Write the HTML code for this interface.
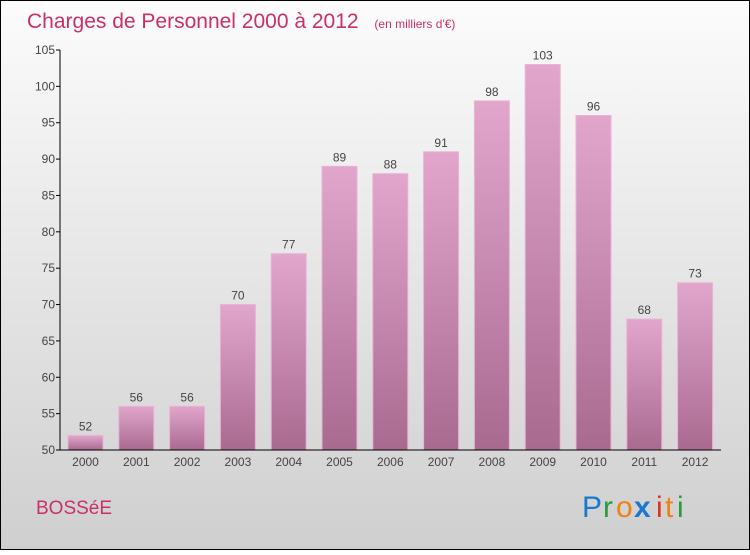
<!DOCTYPE html>
<html><head><meta charset="utf-8"><style>
body{margin:0}
#c{width:750px;height:550px;position:relative;font-family:"Liberation Sans",sans-serif}
</style></head><body>
<div id="c">
<svg width="750" height="550" xmlns="http://www.w3.org/2000/svg" id="svg">
<defs>
<linearGradient id="bg" x1="0" y1="0" x2="0" y2="1"><stop offset="0" stop-color="#fcfcfc"/><stop offset="1" stop-color="#cfcfcf"/></linearGradient>
<linearGradient id="bar" x1="0" y1="0" x2="0" y2="1"><stop offset="0" stop-color="#e2a6cc"/><stop offset="1" stop-color="#a96a90"/></linearGradient>
</defs>
<rect x="0.5" y="0.5" width="749" height="549" fill="url(#bg)" stroke="#000"/>
<text x="27" y="28" font-size="21" fill="#c8306a">Charges de Personnel 2000 à 2012 <tspan font-size="12" dx="10">(en milliers d'€)</tspan></text>
<text x="36" y="514" font-size="19" fill="#c8306a">BOSSéE</text>
<g font-size="30" font-family="'Liberation Sans',sans-serif">
<text x="582" y="517" fill="#1a78d0">P</text><text x="603" y="517" fill="#2a9a40">r</text><text x="616" y="517" fill="#f08010">o</text><text x="634" y="517" fill="#1a78d0" font-weight="bold">x</text><text x="656" y="517" fill="#e03020">i</text><text x="665" y="517" fill="#f08010">t</text><text x="677" y="517" fill="#2a9a40">i</text>
</g>
<g id="plot"></g>
</svg>
</div>
<script>
const categories=["2000","2001","2002","2003","2004","2005","2006","2007","2008","2009","2010","2011","2012"];
const values=[52,56,56,70,77,89,88,91,98,103,96,68,73];
const yTicks=[50,55,60,65,70,75,80,85,90,95,100,105];
const NS="http://www.w3.org/2000/svg";
const g=document.getElementById("plot");
const y=v=>450-(v-50)*400/55;
const x=i=>85.5+i*50.8;
function el(t,a){const e=document.createElementNS(NS,t);for(const k in a)e.setAttribute(k,a[k]);g.appendChild(e);return e;}
yTicks.forEach(t=>{
 const l=el("line",{x1:56,x2:60,y1:y(t),y2:y(t),stroke:"#000"});
 
 
 const tx=el("text",{x:55,y:y(t)+4,"font-size":12,fill:"#444","text-anchor":"end"});tx.textContent=t;
 
 
});
categories.forEach((c,i)=>{
 const v=values[i];
 const r=el("rect",{x:x(i)-17.5,y:y(v),width:35,height:450-y(v),fill:"url(#bar)",stroke:"#e8b4d4","stroke-width":1});
 
 
 const vt=el("text",{x:x(i),y:y(v)-5,"font-size":12,fill:"#444","text-anchor":"middle"});vt.textContent=v;
 
 
 const ct=el("text",{x:x(i),y:466,"font-size":12,fill:"#444","text-anchor":"middle"});ct.textContent=c;
 
 
});
const ya=el("line",{x1:60,x2:60,y1:50,y2:450,stroke:"#000"});


const xa=el("line",{x1:60,x2:721,y1:450,y2:450,stroke:"#000"});


</script>
</body></html>
